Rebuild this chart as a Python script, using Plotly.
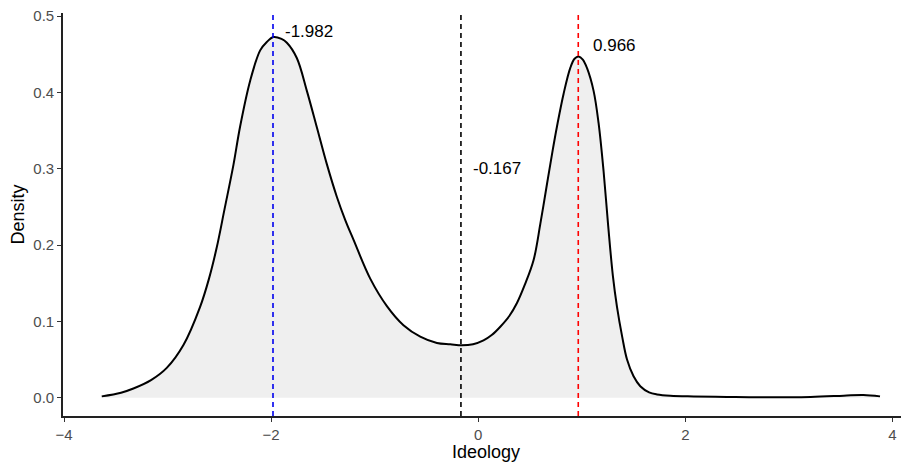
import plotly.graph_objects as go

# density curve
ideology = [-3.636, -3.45, -3.33, -3.16, -3.008, -2.847, -2.686, -2.60, -2.525, -2.45,
            -2.364, -2.30, -2.203, -2.106, -2.042, -1.978, -1.90, -1.848, -1.752, -1.655,
            -1.558, -1.462, -1.365, -1.285, -1.205, -1.043, -0.882, -0.722, -0.560, -0.399,
            -0.270, -0.157, -0.05, 0.051, 0.13, 0.213, 0.30, 0.374, 0.45, 0.534,
            0.60, 0.664, 0.72, 0.76, 0.824, 0.889, 0.930, 0.969, 1.010, 1.050,
            1.114, 1.162, 1.211, 1.255, 1.300, 1.340, 1.390, 1.437, 1.50, 1.565,
            1.65, 1.727, 1.855, 2.08, 2.40, 2.72, 3.21, 3.53, 3.72, 3.88]
density = [0.0017, 0.0065, 0.012, 0.023, 0.039, 0.069, 0.119, 0.156, 0.197, 0.247,
           0.305, 0.355, 0.415, 0.455, 0.466, 0.4725, 0.470, 0.465, 0.445, 0.402,
           0.354, 0.306, 0.263, 0.233, 0.207, 0.156, 0.120, 0.095, 0.080, 0.0717,
           0.070, 0.0686, 0.070, 0.075, 0.082, 0.093, 0.107, 0.124, 0.148, 0.180,
           0.228, 0.280, 0.325, 0.355, 0.398, 0.432, 0.444, 0.447, 0.443, 0.432,
           0.402, 0.360, 0.296, 0.225, 0.160, 0.119, 0.080, 0.050, 0.028, 0.015,
           0.007, 0.0043, 0.0026, 0.0017, 0.001, 0.0005, 0.001, 0.0026, 0.0035, 0.0017]

# reference lines and their labels
line_x = [-1.982, -0.167, 0.966]
line_colors = ['#0000EE', '#000000', '#FF0000']
label_text = ['-1.982', '-0.167', '0.966']
label_y = [0.48, 0.30, 0.461]
label_offset = 0.35

FONT = 'Liberation Sans, Arial'

fig = go.Figure()
fig.add_trace(go.Scatter(x=ideology, y=density, mode='lines',
                         line=dict(color='black', width=2, shape='spline', smoothing=1.0),
                         fill='tozeroy', fillcolor='#EFEFEF', hoverinfo='skip'))

for xv, col in zip(line_x, line_colors):
    fig.add_shape(type='line', x0=xv, x1=xv, y0=0, y1=1, xref='x', yref='paper',
                  line=dict(color=col, width=1.6, dash='5px,4px'))

for xv, txt, yv in zip(line_x, label_text, label_y):
    fig.add_annotation(x=xv + label_offset, y=yv, text=txt, showarrow=False,
                       xanchor='center', yanchor='middle',
                       font=dict(size=17, color='black', family=FONT))

axis_common = dict(showline=True, linecolor='#222222', linewidth=1.6,
                   ticks='outside', ticklen=4, tickwidth=1.3, tickcolor='#333333',
                   showgrid=False, zeroline=False, ticklabeloverflow='allow',
                   tickfont=dict(size=15, color='#4D4D4D', family=FONT),
                   title_font=dict(size=18, color='black', family=FONT))

fig.update_xaxes(range=[-4.01, 4.16], tickvals=[-4, -2, 0, 2, 4],
                 title_text='Ideology', title_standoff=3, **axis_common)
fig.update_yaxes(range=[-0.024, 0.504], tickvals=[0, 0.1, 0.2, 0.3, 0.4, 0.5],
                 tickformat='.1f', title_text='Density', title_standoff=4, **axis_common)

# the page body adds an 8px offset, so the figure is 8px smaller than the window
fig.update_layout(width=901, height=454, showlegend=False,
                  plot_bgcolor='white', paper_bgcolor='white',
                  margin=dict(l=55, r=0, t=5, b=46))

fig.write_html("out.html")
